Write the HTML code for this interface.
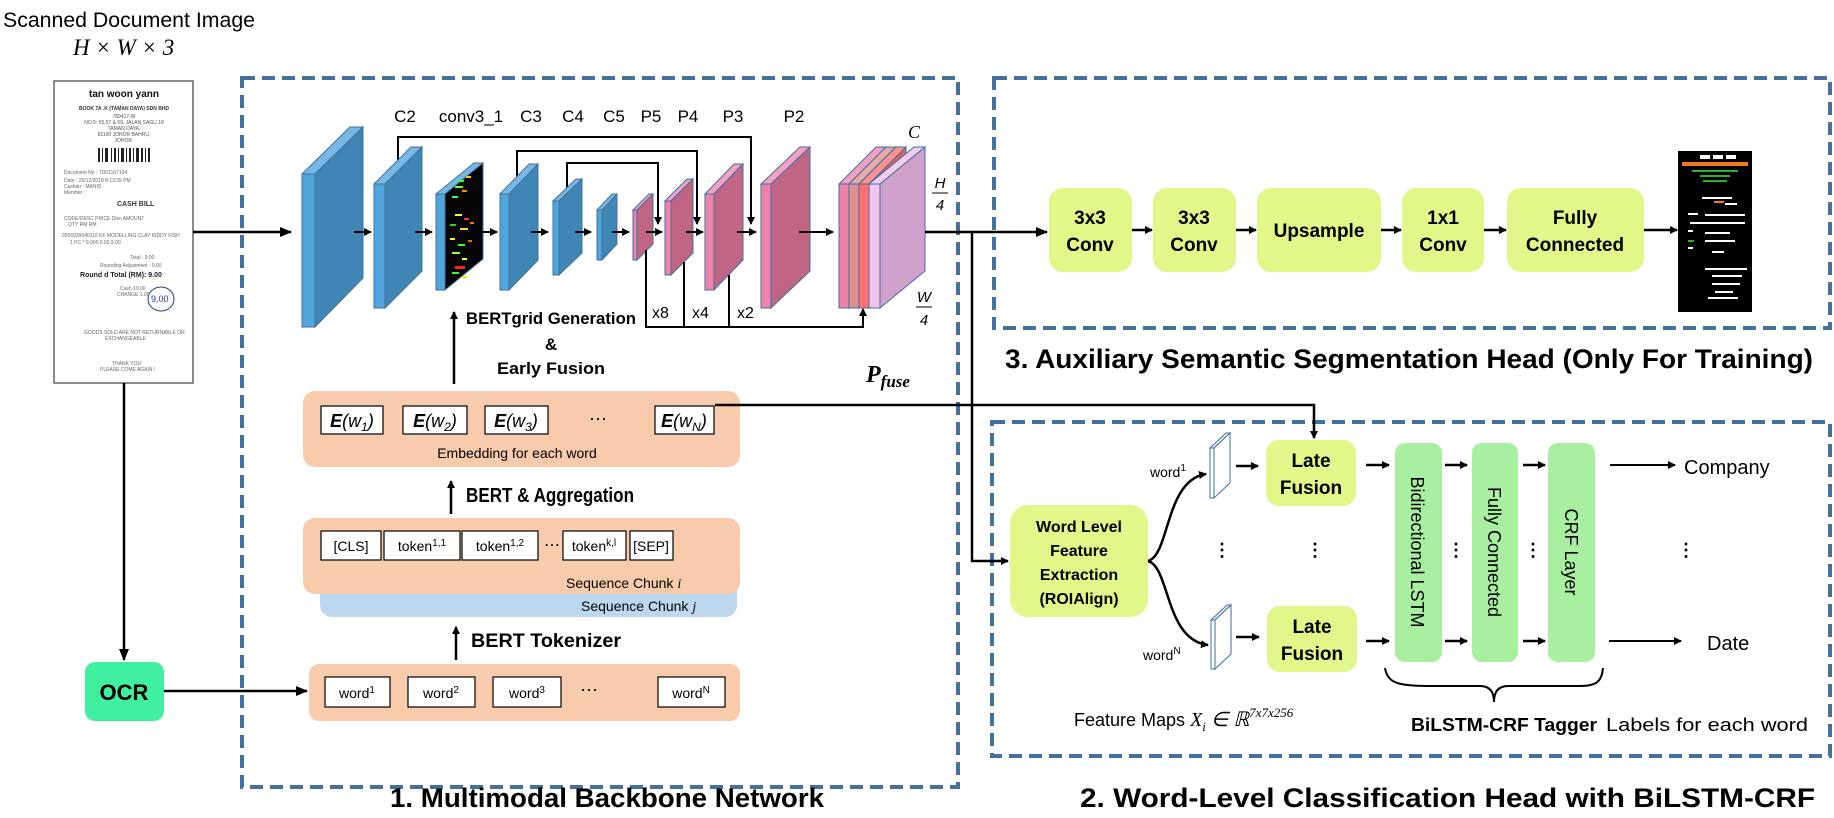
<!DOCTYPE html>
<html><head><meta charset="utf-8"><style>
html,body{margin:0;padding:0;background:#fff}
svg{display:block}
text{font-family:"Liberation Sans",sans-serif}
.b{font-weight:bold}
.m{font-family:"Liberation Serif",serif;font-style:italic}
</style></head><body>
<svg width="1834" height="818" viewBox="0 0 1834 818" xmlns="http://www.w3.org/2000/svg">
<defs>
<marker id="a" markerWidth="8" markerHeight="8" refX="7" refY="4" orient="auto" markerUnits="userSpaceOnUse"><path d="M0,0 L8,4 L0,8 z" fill="#000"/></marker>
<marker id="a2" markerWidth="12" markerHeight="10" refX="11" refY="5" orient="auto" markerUnits="userSpaceOnUse"><path d="M0,0 L12,5 L0,10 z" fill="#000"/></marker>
</defs>

<!-- top-left label -->
<text x="3" y="27" font-size="21" textLength="252" lengthAdjust="spacingAndGlyphs">Scanned Document Image</text>
<text x="73" y="55" font-size="23" class="m">H × W × 3</text>

<!-- receipt -->
<rect x="54" y="81" width="139" height="302" fill="#fff" stroke="#666" stroke-width="1.5"/>
<g font-size="5" fill="#555" text-anchor="middle">
<text x="124" y="97" font-size="10" class="b" fill="#111">tan woon yann</text>
<text x="124" y="110" class="b" fill="#333">BOOK TA .K (TAMAN DAYA) SDN BHD</text>
<text x="124" y="118">789417-W</text><text x="124" y="124">NO.5: 55,57 &amp; 59, JALAN SAGU 18</text>
<text x="124" y="130">TAMAN DAYA,</text><text x="124" y="136">81100 JOHOR BAHRU,</text><text x="124" y="142">JOHOR.</text>
</g>
<g fill="#222">
<rect x="98" y="148" width="2" height="14"/><rect x="102" y="148" width="1" height="14"/><rect x="105" y="148" width="3" height="14"/><rect x="111" y="148" width="1" height="14"/><rect x="114" y="148" width="2" height="14"/><rect x="118" y="148" width="1" height="14"/><rect x="121" y="148" width="3" height="14"/><rect x="126" y="148" width="1" height="14"/><rect x="129" y="148" width="2" height="14"/><rect x="133" y="148" width="1" height="14"/><rect x="136" y="148" width="3" height="14"/><rect x="141" y="148" width="2" height="14"/><rect x="145" y="148" width="1" height="14"/><rect x="148" y="148" width="2" height="14"/>
</g>
<g font-size="5" fill="#666">
<text x="64" y="174">Document No : TD01167104</text><text x="64" y="182">Date : 25/12/2018 8:13:39 PM</text><text x="64" y="188">Cashier : MANIS</text><text x="64" y="194">Member :</text>
<text x="117" y="206" font-size="7" class="b" fill="#333">CASH BILL</text>
<text x="64" y="220">CODE/DESC    PRICE  Disc    AMOUNT</text><text x="68" y="226">QTY          RM             RM</text>
<text x="62" y="237">9556939040116  KF MODELLING CLAY KIDDY FISH</text><text x="70" y="244">1 PC  *   9.000  0.00        9.00</text>
<text x="130" y="259">Total :     9.00</text><text x="100" y="267">Rounding Adjustment :  0.00</text>
<text x="80" y="277" font-size="7" class="b" fill="#222">Round d Total (RM):    9.00</text>
<text x="120" y="290">Cash      10.00</text><text x="117" y="296">CHANGE     1.00</text>
<text x="84" y="334">GOODS SOLD ARE NOT RETURNABLE OR</text><text x="105" y="340">EXCHANGEABLE</text>
<text x="112" y="365">THANK YOU</text><text x="100" y="371">PLEASE COME AGAIN !</text>
</g>
<ellipse cx="161" cy="299" rx="13" ry="12" fill="none" stroke="#2a3a8a" stroke-width="1"/>
<text x="151" y="302" font-size="9" fill="#2a3a8a">9.00</text>

<!-- arrows from receipt -->
<line x1="193" y1="232" x2="291" y2="232" stroke="#000" stroke-width="2.5" marker-end="url(#a2)"/>
<line x1="124" y1="383" x2="124" y2="660" stroke="#000" stroke-width="2.5" marker-end="url(#a2)"/>
<rect x="85" y="662" width="79" height="59" rx="10" fill="#40f0a0"/>
<text x="124" y="700" font-size="22" class="b" text-anchor="middle">OCR</text>
<line x1="164" y1="691" x2="307" y2="691" stroke="#000" stroke-width="2.5" marker-end="url(#a2)"/>

<!-- dashed boxes -->
<g fill="none" stroke="#41719c" stroke-width="4" stroke-dasharray="13 7">
<rect x="242" y="78" width="716" height="709"/>
<rect x="994" y="78" width="836" height="250"/>
<rect x="992" y="422" width="838" height="334"/>
</g>

<!-- titles -->
<text x="390" y="807" font-size="27" class="b" textLength="434" lengthAdjust="spacingAndGlyphs">1. Multimodal Backbone Network</text>
<text x="1005" y="368" font-size="27" class="b" textLength="808" lengthAdjust="spacingAndGlyphs">3. Auxiliary Semantic Segmentation Head (Only For Training)</text>
<text x="1080" y="807" font-size="27" class="b" textLength="735" lengthAdjust="spacingAndGlyphs">2. Word-Level Classification Head with BiLSTM-CRF</text>

<!-- layer labels -->
<g font-size="17" text-anchor="middle">
<text x="405" y="122">C2</text><text x="471" y="122">conv3_1</text><text x="531" y="122">C3</text><text x="573" y="122">C4</text><text x="614" y="122">C5</text><text x="651" y="122">P5</text><text x="688" y="122">P4</text><text x="733" y="122">P3</text><text x="794" y="122">P2</text>
</g>

<!-- skip lines -->
<g fill="none" stroke="#000" stroke-width="2">
<polyline points="398,162 398,137 751,137 751,224" marker-end="url(#a)"/>
<polyline points="517,177 517,151 697,151 697,224" marker-end="url(#a)"/>
<polyline points="567,189 567,163 658,163 658,224" marker-end="url(#a)"/>
</g>

<!-- slabs -->
<g stroke="#41719c" stroke-width="1">
<!-- slab1 -->
<polygon points="302,174 350,127 363,127 315,174" fill="#78b8e4"/><polygon points="315,174 363,127 363,278 315,327" fill="#3f86b5"/><rect x="302" y="174" width="13" height="153" fill="#4ea6dc"/>
<polygon points="374,184 411,147 422,147 385,184" fill="#78b8e4"/><polygon points="385,184 422,147 422,271 385,308" fill="#3f86b5"/><rect x="374" y="184" width="11" height="124" fill="#4ea6dc"/>
<polygon points="436,194 474,163 483,163 445,194" fill="#78b8e4"/><polygon points="445,194 483,163 483,259 445,290" fill="#050505"/><rect x="436" y="194" width="9" height="96" fill="#4ea6dc"/>
<polygon points="500,194 529,164 538,164 509,194" fill="#78b8e4"/><polygon points="509,194 538,164 538,260 509,290" fill="#3f86b5"/><rect x="500" y="194" width="9" height="96" fill="#4ea6dc"/>
<polygon points="553,201 576,179 582,179 559,201" fill="#78b8e4"/><polygon points="559,201 582,179 582,253 559,275" fill="#3f86b5"/><rect x="553" y="201" width="6" height="74" fill="#4ea6dc"/>
<polygon points="597,210 612,194 617,194 602,210" fill="#78b8e4"/><polygon points="602,210 617,194 617,244 602,260" fill="#3f86b5"/><rect x="597" y="210" width="5" height="50" fill="#4ea6dc"/>
<polygon points="633,210 649,194 653,194 637,210" fill="#f4a0c0"/><polygon points="637,210 653,194 653,244 637,260" fill="#c06684"/><rect x="633" y="210" width="4" height="50" fill="#ee82a8"/>
<polygon points="665,201 687,179 693,179 671,201" fill="#f4a0c0"/><polygon points="671,201 693,179 693,253 671,275" fill="#c06684"/><rect x="665" y="201" width="6" height="74" fill="#ee82a8"/>
<polygon points="705,194 734,164 743,164 714,194" fill="#f4a0c0"/><polygon points="714,194 743,164 743,260 714,290" fill="#c06684"/><rect x="705" y="194" width="9" height="96" fill="#ee82a8"/>
<polygon points="761,184 800,147 810,147 771,184" fill="#f4a0c0"/><polygon points="771,184 810,147 810,271 771,308" fill="#c06684"/><rect x="761" y="184" width="10" height="124" fill="#ee82a8"/>
<!-- fused stack -->
<polygon points="839,184 876,147 886,147 849,184" fill="#f4a0c0"/><polygon points="849,184 886,147 886,271 849,308" fill="#c06684"/><rect x="839" y="184" width="10" height="124" fill="#ee82a8"/>
<polygon points="849,184 886,147 896,147 859,184" fill="#e6a8a8"/><polygon points="859,184 896,147 896,271 859,308" fill="#c08080"/><rect x="849" y="184" width="10" height="124" fill="#dd9090"/>
<polygon points="859,184 896,147 906,147 869,184" fill="#ff9090"/><polygon points="869,184 906,147 906,271 869,308" fill="#e06060"/><rect x="859" y="184" width="10" height="124" fill="#ff7070"/>
<polygon points="869,184 914,147 925,147 880,184" fill="#f4cdee"/><polygon points="880,184 925,147 925,271 880,308" fill="#cfa0cc"/><rect x="869" y="184" width="11" height="124" fill="#f2c4ec"/>
</g>
<!-- conv3_1 colored blobs -->
<g>
<rect x="458" y="180" width="6" height="2" fill="#3f3"/><rect x="466" y="176" width="5" height="2" fill="#fc0"/><rect x="455" y="186" width="8" height="2" fill="#7f3"/><rect x="462" y="190" width="5" height="2" fill="#f80"/><rect x="452" y="196" width="6" height="2" fill="#3f6"/>
<rect x="455" y="214" width="7" height="2" fill="#ff3"/><rect x="464" y="218" width="5" height="2" fill="#f33"/><rect x="450" y="224" width="6" height="2" fill="#3c3"/><rect x="460" y="228" width="8" height="2" fill="#fd2"/><rect x="470" y="222" width="4" height="2" fill="#f70"/>
<rect x="450" y="238" width="5" height="2" fill="#ff0"/><rect x="458" y="244" width="7" height="2" fill="#3f3"/><rect x="468" y="240" width="4" height="2" fill="#f60"/><rect x="452" y="252" width="8" height="2" fill="#9f3"/><rect x="462" y="258" width="5" height="2" fill="#ff3"/>
<rect x="455" y="266" width="10" height="3" fill="#f22"/><rect x="452" y="272" width="7" height="2" fill="#3f3"/><rect x="462" y="276" width="5" height="2" fill="#fd0"/>
</g>

<!-- flow arrows -->
<g stroke="#000" stroke-width="2" marker-end="url(#a)">
<line x1="354" y1="232" x2="371" y2="232"/><line x1="415" y1="232" x2="432" y2="232"/><line x1="479" y1="232" x2="497" y2="232"/><line x1="531" y1="232" x2="548" y2="232"/><line x1="575" y1="232" x2="591" y2="232"/><line x1="612" y1="232" x2="629" y2="232"/><line x1="646" y1="232" x2="662" y2="232"/><line x1="686" y1="232" x2="703" y2="232"/><line x1="737" y1="232" x2="756" y2="232"/><line x1="799" y1="232" x2="833" y2="232"/>
</g>
<!-- upsample lines -->
<g fill="none" stroke="#000" stroke-width="2">
<polyline points="646,250 646,327 863,327 863,309" marker-end="url(#a)"/>
<line x1="684" y1="262" x2="684" y2="327"/><line x1="729" y1="275" x2="729" y2="327"/>
</g>
<g font-size="16"><text x="652" y="318">x8</text><text x="692" y="318">x4</text><text x="737" y="318">x2</text></g>
<text x="908" y="138" font-size="18" class="m">C</text>
<g class="m" font-size="15" text-anchor="middle"><text x="940" y="188">H</text><line x1="932" y1="193" x2="948" y2="193" stroke="#000"/><text x="940" y="210">4</text>
<text x="924" y="302">W</text><line x1="916" y1="307" x2="932" y2="307" stroke="#000"/><text x="924" y="325">4</text></g>
<text x="866" y="382" font-size="24" class="m b">P<tspan font-size="17" dy="5">fuse</tspan></text>

<!-- BERTgrid arrow -->
<line x1="454" y1="384" x2="454" y2="312" stroke="#000" stroke-width="2.5" marker-end="url(#a)"/>
<g class="b" font-size="17" text-anchor="middle"><text x="551" y="324" textLength="170" lengthAdjust="spacingAndGlyphs">BERTgrid Generation</text><text x="551" y="350">&amp;</text><text x="551" y="374" textLength="108" lengthAdjust="spacingAndGlyphs">Early Fusion</text></g>

<!-- embedding box -->
<rect x="303" y="391" width="437" height="76" rx="12" fill="#f8cbad"/>
<g fill="#fff" stroke="#000" stroke-width="1.2">
<rect x="321" y="406" width="62" height="28"/><rect x="403" y="406" width="64" height="28"/><rect x="485" y="406" width="63" height="28"/><rect x="655" y="406" width="59" height="28"/>
</g>
<g class="m" font-size="18" text-anchor="middle">
<text x="352" y="427"><tspan class="b">E</tspan>(w<tspan font-size="12" dy="4">1</tspan><tspan dy="-4">)</tspan></text>
<text x="435" y="427"><tspan class="b">E</tspan>(w<tspan font-size="12" dy="4">2</tspan><tspan dy="-4">)</tspan></text>
<text x="516" y="427"><tspan class="b">E</tspan>(w<tspan font-size="12" dy="4">3</tspan><tspan dy="-4">)</tspan></text>
<text x="684" y="427"><tspan class="b">E</tspan>(w<tspan font-size="12" dy="4">N</tspan><tspan dy="-4">)</tspan></text>
</g>
<text x="598" y="425" font-size="18" text-anchor="middle">⋯</text>
<text x="517" y="458" font-size="14" text-anchor="middle">Embedding for each word</text>

<line x1="451" y1="514" x2="451" y2="481" stroke="#000" stroke-width="2.5" marker-end="url(#a)"/>
<text x="466" y="502" font-size="20" class="b" textLength="168" lengthAdjust="spacingAndGlyphs">BERT &amp; Aggregation</text>

<!-- sequence boxes -->
<rect x="320" y="540" width="417" height="77" rx="12" fill="#bdd7ee"/>
<rect x="303" y="518" width="437" height="76" rx="12" fill="#f8cbad"/>
<g fill="#fff" stroke="#000" stroke-width="1.2">
<rect x="321" y="531" width="60" height="29"/><rect x="384" y="531" width="76" height="29"/><rect x="462" y="531" width="76" height="29"/><rect x="563" y="531" width="63" height="29"/><rect x="630" y="531" width="43" height="29"/>
</g>
<g font-size="14" text-anchor="middle">
<text x="351" y="551">[CLS]</text>
<text x="422" y="551">token<tspan font-size="10" dy="-5">1,1</tspan></text>
<text x="500" y="551">token<tspan font-size="10" dy="-5">1,2</tspan></text>
<text x="594" y="551">token<tspan font-size="10" dy="-5">k,l</tspan></text>
<text x="651" y="551">[SEP]</text>
</g>
<text x="552" y="550" font-size="16" text-anchor="middle">⋯</text>
<text x="566" y="588" font-size="14">Sequence Chunk <tspan class="m">i</tspan></text>
<text x="581" y="611" font-size="14">Sequence Chunk <tspan class="m">j</tspan></text>

<line x1="456" y1="660" x2="456" y2="627" stroke="#000" stroke-width="2.5" marker-end="url(#a)"/>
<text x="471" y="647" font-size="19" class="b" textLength="150" lengthAdjust="spacingAndGlyphs">BERT Tokenizer</text>

<!-- word box -->
<rect x="309" y="664" width="431" height="57" rx="10" fill="#f8cbad"/>
<g fill="#fff" stroke="#000" stroke-width="1.2">
<rect x="325" y="677" width="65" height="30"/><rect x="408" y="677" width="67" height="30"/><rect x="493" y="677" width="68" height="30"/><rect x="658" y="677" width="67" height="30"/>
</g>
<g font-size="14" text-anchor="middle">
<text x="357" y="698">word<tspan font-size="10" dy="-5">1</tspan></text>
<text x="441" y="698">word<tspan font-size="10" dy="-5">2</tspan></text>
<text x="527" y="698">word<tspan font-size="10" dy="-5">3</tspan></text>
<text x="691" y="698">word<tspan font-size="10" dy="-5">N</tspan></text>
</g>
<text x="589" y="696" font-size="18" text-anchor="middle">⋯</text>

<!-- long connectors -->
<polyline points="715,405 1314,405 1314,438" fill="none" stroke="#000" stroke-width="2.5" marker-end="url(#a)"/>
<line x1="925" y1="232" x2="1047" y2="232" stroke="#000" stroke-width="2.5" marker-end="url(#a2)"/>
<polyline points="972,232 972,561 1008,561" fill="none" stroke="#000" stroke-width="2.5" marker-end="url(#a)"/>

<!-- box 3 contents -->
<g fill="#e1f78a">
<rect x="1049" y="188" width="83" height="84" rx="14"/><rect x="1153" y="188" width="83" height="84" rx="14"/><rect x="1257" y="188" width="124" height="84" rx="14"/><rect x="1402" y="188" width="82" height="84" rx="14"/><rect x="1507" y="188" width="137" height="84" rx="14"/>
</g>
<g class="b" font-size="19" text-anchor="middle">
<text x="1090" y="224">3x3</text><text x="1090" y="251">Conv</text>
<text x="1194" y="224">3x3</text><text x="1194" y="251">Conv</text>
<text x="1319" y="237">Upsample</text>
<text x="1443" y="224">1x1</text><text x="1443" y="251">Conv</text>
<text x="1575" y="224">Fully</text><text x="1575" y="243" dy="8">Connected</text>
</g>
<g stroke="#000" stroke-width="2.5" marker-end="url(#a)">
<line x1="1132" y1="230" x2="1152" y2="230"/><line x1="1236" y1="230" x2="1256" y2="230"/><line x1="1381" y1="230" x2="1401" y2="230"/><line x1="1484" y1="230" x2="1506" y2="230"/><line x1="1644" y1="230" x2="1677" y2="230"/>
</g>
<rect x="1678" y="151" width="74" height="161" fill="#000"/>
<g fill="#fff">
<rect x="1700" y="155" width="10" height="4"/><rect x="1713" y="155" width="10" height="4"/><rect x="1726" y="155" width="10" height="4"/>
<rect x="1702" y="197" width="30" height="2"/><rect x="1725" y="203" width="12" height="2"/><rect x="1688" y="213" width="10" height="2"/><rect x="1705" y="214" width="40" height="2"/><rect x="1690" y="222" width="55" height="2"/><rect x="1688" y="230" width="5" height="2"/><rect x="1705" y="232" width="25" height="2"/><rect x="1705" y="240" width="30" height="2"/><rect x="1688" y="247" width="5" height="2"/><rect x="1712" y="251" width="12" height="2"/><rect x="1705" y="268" width="42" height="2"/><rect x="1712" y="275" width="30" height="2"/><rect x="1712" y="283" width="28" height="2"/><rect x="1715" y="291" width="18" height="2"/><rect x="1708" y="297" width="30" height="2"/>
</g>
<g fill="#f07a18"><rect x="1682" y="162" width="66" height="4"/><rect x="1714" y="201" width="10" height="2"/></g>
<g fill="#2ab02a"><rect x="1692" y="170" width="46" height="2"/><rect x="1700" y="175" width="30" height="2"/><rect x="1703" y="180" width="24" height="2"/><rect x="1688" y="240" width="6" height="2"/></g>

<!-- box 2 contents -->
<rect x="1010" y="505" width="138" height="112" rx="18" fill="#e1f78a"/>
<g class="b" font-size="16" text-anchor="middle">
<text x="1079" y="532">Word Level</text><text x="1079" y="556">Feature</text><text x="1079" y="580">Extraction</text><text x="1079" y="604">(ROIAlign)</text>
</g>
<path d="M1148,561 C1170,555 1165,480 1206,474" fill="none" stroke="#000" stroke-width="2.5" marker-end="url(#a)"/>
<path d="M1148,561 C1170,567 1165,640 1208,645" fill="none" stroke="#000" stroke-width="2.5" marker-end="url(#a)"/>
<g stroke="#41719c" stroke-width="1">
<polygon points="1210,448 1226,433 1230,433 1214,448" fill="#e8f0f8"/><polygon points="1214,448 1230,433 1230,483 1214,498" fill="#fff"/><rect x="1210" y="448" width="4" height="50" fill="#fff"/>
<polygon points="1211,620 1227,605 1231,605 1215,620" fill="#e8f0f8"/><polygon points="1215,620 1231,605 1231,654 1215,669" fill="#fff"/><rect x="1211" y="620" width="4" height="49" fill="#fff"/>
</g>
<text x="1150" y="477" font-size="14">word<tspan font-size="10" dy="-6">1</tspan></text>
<text x="1143" y="660" font-size="14">word<tspan font-size="10" dy="-6">N</tspan></text>
<g fill="#e1f78a"><rect x="1266" y="440" width="90" height="66" rx="13"/><rect x="1267" y="606" width="90" height="66" rx="13"/></g>
<g class="b" font-size="19" text-anchor="middle">
<text x="1311" y="467">Late</text><text x="1311" y="494">Fusion</text>
<text x="1312" y="633">Late</text><text x="1312" y="660">Fusion</text>
</g>
<g fill="#a8f0a0"><rect x="1395" y="443" width="47" height="219" rx="10"/><rect x="1472" y="443" width="46" height="219" rx="10"/><rect x="1548" y="443" width="47" height="219" rx="10"/></g>
<g font-size="18" text-anchor="middle">
<text transform="translate(1411,552) rotate(90)">Bidirectional LSTM</text>
<text transform="translate(1488,552) rotate(90)">Fully Connected</text>
<text transform="translate(1565,552) rotate(90)">CRF Layer</text>
</g>
<g stroke="#000" stroke-width="2.5" marker-end="url(#a)">
<line x1="1236" y1="466" x2="1258" y2="466"/><line x1="1236" y1="637" x2="1259" y2="637"/>
<line x1="1366" y1="465" x2="1389" y2="465"/><line x1="1366" y1="641" x2="1389" y2="641"/>
<line x1="1445" y1="465" x2="1467" y2="465"/><line x1="1445" y1="641" x2="1467" y2="641"/>
<line x1="1523" y1="465" x2="1545" y2="465"/><line x1="1523" y1="641" x2="1545" y2="641"/>
</g>
<g stroke="#000" stroke-width="2" marker-end="url(#a)">
<line x1="1610" y1="465" x2="1675" y2="465"/><line x1="1609" y1="641" x2="1681" y2="641"/>
</g>
<text x="1684" y="474" font-size="20">Company</text>
<text x="1707" y="650" font-size="20">Date</text>
<g font-size="18" text-anchor="middle" class="b"><text x="1222" y="556">⋮</text><text x="1315" y="556">⋮</text><text x="1456" y="556">⋮</text><text x="1533" y="556">⋮</text><text x="1686" y="556">⋮</text></g>
<path d="M1385,668 C1388,685 1400,686 1440,686 L1480,686 C1490,686 1494,692 1494,702 C1494,692 1498,686 1508,686 L1580,686 C1598,686 1602,680 1603,668" fill="none" stroke="#000" stroke-width="2"/>
<text x="1411" y="731" font-size="18" class="b" textLength="186" lengthAdjust="spacingAndGlyphs">BiLSTM-CRF Tagger</text>
<text x="1606" y="731" font-size="18" textLength="202" lengthAdjust="spacingAndGlyphs">Labels for each word</text>
<text x="1074" y="726" font-size="18">Feature Maps <tspan class="m" font-size="20">X<tspan font-size="13" dy="5">i</tspan><tspan dy="-5"> ∈ ℝ</tspan><tspan font-size="13" dy="-9">7x7x256</tspan></tspan></text>
</svg>
</body></html>
